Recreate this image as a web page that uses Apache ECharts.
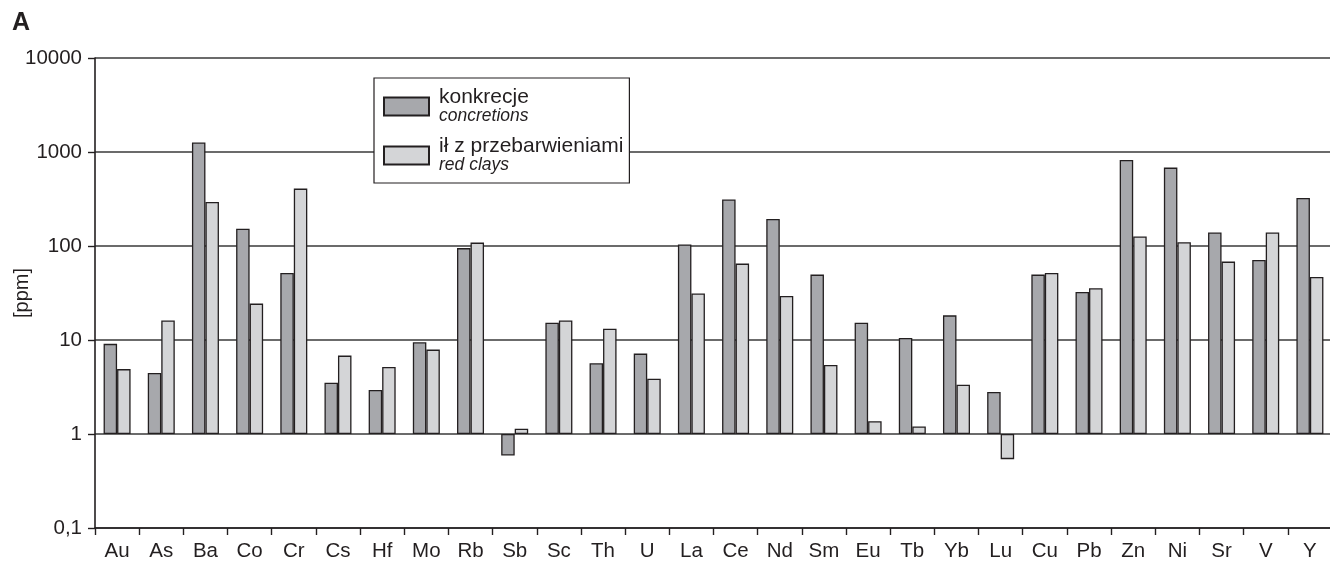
<!DOCTYPE html>
<html>
<head>
<meta charset="utf-8">
<script src="https://cdn.jsdelivr.net/npm/echarts@6/dist/echarts.min.js"></script>
<style>
html,body{margin:0;padding:0;background:#fff;}
#chart{width:1330px;height:563px;}
</style>
</head>
<body>
<div id="chart"></div>
<script>
const categories = ['Au','As','Ba','Co','Cr','Cs','Hf','Mo','Rb','Sb','Sc','Th','U','La','Ce','Nd','Sm','Eu','Tb','Yb','Lu','Cu','Pb','Zn','Ni','Sr','V','Y'];
const concretions = [9.1, 4.45, 1260, 153, 51.6, 3.52, 2.94, 9.46, 95, 0.59, 15.3, 5.65, 7.17, 104, 312, 194, 49.6, 15.3, 10.5, 18.3, 2.8, 49.6, 32.4, 822, 682, 139, 71, 324];
const redClays = [4.9, 16.1, 294, 24.4, 408, 6.82, 5.16, 7.9, 108.7, 1.14, 16.1, 13.2, 3.88, 31.2, 65, 29.4, 5.42, 1.37, 1.2, 3.35, 0.54, 51.6, 35.5, 126, 109.5, 68.2, 139, 46.8];
const seriesNames = ['konkrecje', 'ił z przebarwieniami'];
const seriesSubNames = ['concretions', 'red clays'];
const yTickLabels = ['0,1', '1', '10', '100', '1000', '10000'];

const chart = echarts.init(document.getElementById('chart'), null, {renderer: 'canvas'});
const FONT = 'Liberation Sans, Arial, sans-serif';
const ink = '#231f20';

chart.setOption({
  animation: false,
  backgroundColor: '#fff',
  textStyle: {fontFamily: FONT, color: ink},
  title: {
    text: 'A', left: 7, top: 6,
    textStyle: {fontFamily: FONT, fontSize: 25, fontWeight: 'bold', color: ink}
  },
  grid: {left: 95, top: 58, width: 1237, height: 470, containLabel: false, outerBoundsMode: 'none'},
  legend: {
    orient: 'vertical',
    left: 374, top: 78,
    icon: 'rect',
    itemWidth: 45, itemHeight: 18,
    itemGap: 11,
    padding: [9, 6, 9, 9],
    borderColor: ink, borderWidth: 1.2,
    backgroundColor: '#fff',
    selectedMode: false,
    formatter: function (name) {
      const i = seriesNames.indexOf(name);
      return '{a|' + name + '}\n{b|' + seriesSubNames[i] + '}';
    },
    textStyle: {
      padding: [0, 0, 0, 5],
      rich: {
        a: {fontFamily: FONT, fontSize: 21, color: ink, lineHeight: 19},
        b: {fontFamily: FONT, fontSize: 17.5, fontStyle: 'italic', color: ink, lineHeight: 18}
      }
    },
    data: seriesNames
  },
  xAxis: {
    type: 'category',
    data: categories,
    axisLine: {show: true, lineStyle: {color: ink, width: 1.6}},
    axisTick: {show: true, length: 7, lineStyle: {color: ink, width: 1.4}},
    axisLabel: {fontFamily: FONT, fontSize: 20.5, color: ink, margin: 13, interval: 0},
    splitLine: {show: false}
  },
  yAxis: {
    type: 'log',
    logBase: 10,
    min: 0.1, max: 10000,
    interval: 1,
    name: '[ppm]',
    nameLocation: 'middle',
    nameGap: 63,
    nameMoveOverlap: false,
    nameTextStyle: {fontFamily: FONT, fontSize: 20, color: ink},
    axisLine: {show: true, lineStyle: {color: ink, width: 1.6}},
    axisTick: {show: true, length: 7, lineStyle: {color: ink, width: 1.4}},
    axisLabel: {
      fontFamily: FONT, fontSize: 20.5, color: ink, margin: 13,
      formatter: function (v) {
        const e = Math.round(Math.log10(v));
        return yTickLabels[e + 1];
      }
    },
    splitLine: {show: true, lineStyle: {color: '#3a3a3a', width: 1.5}},
    minorTick: {show: false},
    minorSplitLine: {show: false}
  },
  series: [
    {
      name: seriesNames[0], type: 'bar', data: concretions,
      barWidth: 13.5, barGap: '0%',
      itemStyle: {color: '#a7a8ac', borderColor: ink, borderWidth: 1.3}
    },
    {
      name: seriesNames[1], type: 'bar', data: redClays,
      barWidth: 13.5, barGap: '0%',
      itemStyle: {color: '#d4d5d7', borderColor: ink, borderWidth: 1.3}
    }
  ]
});
</script>
</body>
</html>
